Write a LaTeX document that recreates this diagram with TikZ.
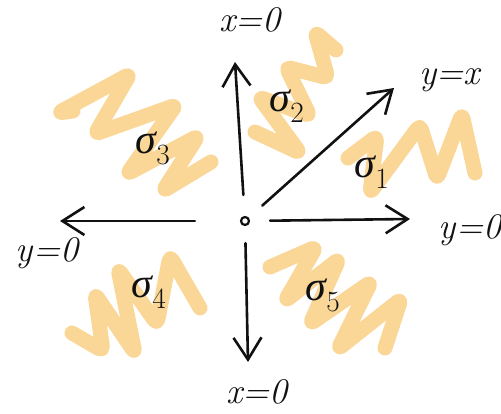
\documentclass[tikz,border=0pt]{standalone}
\usepackage{fontspec}
\usetikzlibrary{arrows.meta,positioning}
\newfontfamily\grk{Liberation Serif}
\newcommand{\sig}[1]{{\grk\itshape σ}\textsubscript{#1}}
\definecolor{marker}{HTML}{FBD797}
\definecolor{ink}{HTML}{111111}

\begin{document}
\begin{tikzpicture}[x=1pt, y=-1pt,
    font=\fontsize{36}{36}\selectfont\itshape,
    scribble/.style={draw=marker, line width=15pt, line cap=round,
                     line join=round, rounded corners=5pt},
    ray/.style={draw=ink, line width=2.6pt, line cap=round,
                -{Straight Barb[length=22pt, width=28pt]}},
    origin/.style={circle, draw=ink, line width=2.2pt, inner sep=0pt,
                   minimum size=8pt},
    lbl/.style={inner sep=0pt, text=ink},
    cone/.style={lbl, font=\fontsize{42}{42}\selectfont}
  ]
  \useasboundingbox (0,0) rectangle (501,414);

  % shaded cones, drawn first so the rays lie on top
  \draw[scribble] (73,111) -- (58,113) -- (130,74) -- (95,134) -- (176,105)
    -- (127,174) -- (198,136) -- (163,191) -- (211,162);
  \draw[scribble] (336,50) -- (315,32) -- (328,78) -- (286,67) -- (310,116)
    -- (259,97) -- (300,153) -- (255,132);
  \draw[scribble] (348,158) -- (377,136) -- (370,193) -- (420,125)
    -- (437,179) -- (462,114) -- (475,173);
  \draw[scribble] (72,333) -- (103,351) -- (95,294) -- (135,353) -- (118,269)
    -- (157,324) -- (170,256) -- (200,308);
  \draw[scribble] (270,267) -- (316,247) -- (285,301) -- (339,259)
    -- (310,324) -- (371,282) -- (338,349) -- (401,299) -- (385,348);

  \node[origin] (o) at (245,221) {};
  \coordinate (up)   at (235,62);
  \coordinate (down) at (248,362);
  \coordinate (west) at (60,221);
  \coordinate (east) at (410,219);
  \coordinate (diag) at (394,88);

  \draw[ray, shorten <=21pt] (o) -- (up);
  \draw[ray, shorten <=17pt] (o) -- (down);
  \draw[ray, shorten <=45pt] (o) -- (west);
  \draw[ray, shorten <=20pt] (o) -- (east);
  \draw[ray, shorten <=18pt] (o) -- (diag);

  \node[lbl] (xtop) at (250,20)  {x=0};
  \node[lbl] (xbot) at (257,392) {x=0};
  \node[lbl] (ydia) at (450,80)  {y=x};
  \node[lbl] (yeas) at (470,230) {y=0};
  \node[lbl] (ywes) at (47,253)  {y=0};

  \node[cone] (s1) at (372,172) {\sig{1}};
  \node[cone] (s2) at (287,106) {\sig{2}};
  \node[cone] (s3) at (153,148) {\sig{3}};
  \node[cone] (s4) at (149,292) {\sig{4}};
  \node[cone] (s5) at (323,295) {\sig{5}};
\end{tikzpicture}
\end{document}
